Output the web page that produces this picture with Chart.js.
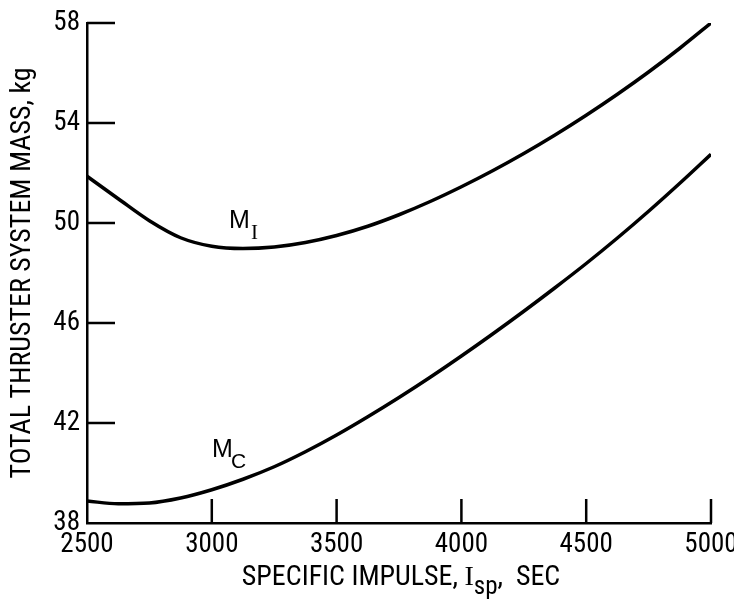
<!DOCTYPE html>
<html>
<head>
<meta charset="utf-8">
<script src="https://cdn.jsdelivr.net/npm/chart.js@4/dist/chart.umd.min.js"></script>
<style>
  body { margin: 0; background: #fff; }
  canvas { display: block; }
</style>
</head>
<body>
<canvas id="grafico-massa" width="734" height="601"></canvas>
<script>
// values, every 125 s of Isp
const impulso = [2500, 2625, 2750, 2875, 3000, 3125, 3250, 3375, 3500, 3625, 3750,
  3875, 4000, 4125, 4250, 4375, 4500, 4625, 4750, 4875, 5000];
const massaMI = [51.87, 50.97, 50.09, 49.41, 49.07, 48.98, 49.04, 49.22, 49.5, 49.87, 50.33,
  50.86, 51.45, 52.09, 52.78, 53.52, 54.31, 55.15, 56.04, 56.99, 58.0];
const massaMC = [38.88, 38.77, 38.8, 39.0, 39.33, 39.75, 40.25, 40.85, 41.52, 42.25, 43.02,
  43.83, 44.68, 45.56, 46.47, 47.41, 48.38, 49.4, 50.47, 51.59, 52.75];

const ticksX = [2500, 3000, 3500, 4000, 4500, 5000];
const ticksY = [38, 42, 46, 50, 54, 58];

const fonteEstreita = "'Roboto Condensed', 'DejaVu Sans Condensed', sans-serif";

function montaPontos(xs, ys) {
  return xs.map((x, i) => ({ x: x, y: ys[i] }));
}

// inner tick marks, curve labels and the x title (it has a subscript)
const extras = {
  id: 'extras',
  afterDraw(chart) {
    const ctx = chart.ctx;
    const sx = chart.scales.x;
    const sy = chart.scales.y;
    const area = chart.chartArea;

    ctx.save();
    ctx.strokeStyle = '#000';
    ctx.lineWidth = 2.5;
    ctx.beginPath();
    ticksY.slice(1).forEach((v) => {
      const py = sy.getPixelForValue(v);
      ctx.moveTo(area.left, py);
      ctx.lineTo(area.left + 28, py);
    });
    ticksX.slice(1).forEach((v) => {
      const px = sx.getPixelForValue(v);
      ctx.moveTo(px, area.bottom);
      ctx.lineTo(px, area.bottom - 24);
    });
    ctx.stroke();

    ctx.fillStyle = '#000';
    ctx.textBaseline = 'alphabetic';
    ctx.textAlign = 'left';

    // M_I
    ctx.font = "25px 'Liberation Sans', sans-serif";
    ctx.fillText('M', 229, 228);
    ctx.font = "21px 'Liberation Serif', serif";
    ctx.fillText('I', 251, 239);

    // M_C
    ctx.font = "25px 'Liberation Sans', sans-serif";
    ctx.fillText('M', 212, 457);
    ctx.font = "21px 'Liberation Sans', sans-serif";
    ctx.fillText('C', 231, 468);

    // x axis title
    const partes = [
      { t: 'SPECIFIC IMPULSE, ', f: '28px ' + fonteEstreita, dy: 0 },
      { t: 'I', f: "28px 'Liberation Serif', serif", dy: 0 },
      { t: 'sp', f: '25px ' + fonteEstreita, dy: 9 },
      { t: ',  SEC', f: '28px ' + fonteEstreita, dy: 0 },
    ];
    let total = 0;
    partes.forEach((p) => {
      ctx.font = p.f;
      p.w = ctx.measureText(p.t).width;
      total += p.w;
    });
    let x = (area.left + area.right) / 2 - total / 2 + 2;
    partes.forEach((p) => {
      ctx.font = p.f;
      ctx.fillText(p.t, x, 585 + p.dy);
      x += p.w;
    });
    ctx.restore();
  },
};

const config = {
  type: 'line',
  data: {
    datasets: [
      {
        label: 'MI',
        data: montaPontos(impulso, massaMI),
        borderColor: '#000',
        borderWidth: 3.5,
        pointRadius: 0,
        cubicInterpolationMode: 'monotone',
        fill: false,
      },
      {
        label: 'MC',
        data: montaPontos(impulso, massaMC),
        borderColor: '#000',
        borderWidth: 3.5,
        pointRadius: 0,
        cubicInterpolationMode: 'monotone',
        fill: false,
      },
    ],
  },
  options: {
    responsive: false,
    animation: false,
    layout: {
      padding: { left: 0, top: 23, right: 23, bottom: 0 },
    },
    plugins: {
      legend: { display: false },
      tooltip: { enabled: false },
    },
    scales: {
      x: {
        type: 'linear',
        min: 2500,
        max: 5000,
        afterBuildTicks: (scale) => {
          scale.ticks = ticksX.map((v) => ({ value: v }));
        },
        ticks: {
          color: '#000',
          padding: 6,
          maxRotation: 0,
          callback: (v) => String(v),
          font: { family: fonteEstreita, size: 27 },
        },
        grid: { display: false, drawTicks: false },
        border: { display: true, color: '#000', width: 2.5 },
        afterFit: (scale) => {
          scale.height = 78;
          scale.paddingLeft = 0;
          scale.paddingRight = 0;
        },
      },
      y: {
        min: 38,
        max: 58,
        afterBuildTicks: (scale) => {
          scale.ticks = ticksY.map((v) => ({ value: v }));
        },
        ticks: {
          color: '#000',
          padding: 7,
          callback: (v) => String(v),
          font: { family: fonteEstreita, size: 27 },
        },
        grid: { display: false, drawTicks: false },
        border: { display: true, color: '#000', width: 2.5 },
        title: {
          display: true,
          text: 'TOTAL THRUSTER SYSTEM MASS, kg',
          color: '#000',
          padding: { top: 6, bottom: 0 },
          font: { family: fonteEstreita, size: 28 },
        },
        afterFit: (scale) => {
          scale.width = 87;
          scale.paddingTop = 0;
          scale.paddingBottom = 0;
        },
      },
    },
  },
  plugins: [extras],
};

new Chart(document.getElementById('grafico-massa').getContext('2d'), config);
</script>
</body>
</html>
